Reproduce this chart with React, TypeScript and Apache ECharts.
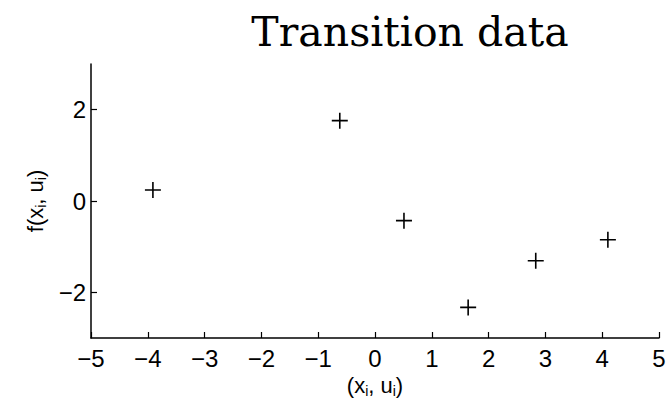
import React, { useEffect, useRef } from "react";
import * as echarts from "echarts";

const xValues = [-3.91, -0.62, 0.51, 1.64, 2.83, 4.1];
const yValues = [0.24, 1.76, -0.43, -2.33, -1.31, -0.85];
const yTickValues = [-2, 0, 2];
const titleText = "Transition data";

const plus =
  "path://M7.2,0 H8.8 V7.2 H16 V8.8 H8.8 V16 H7.2 V8.8 H0 V7.2 H7.2 Z";

const fmt = (v: number) => (v < 0 ? "\u2212" + Math.abs(v) : String(v));

export default function App() {
  const ref = useRef<HTMLDivElement>(null);
  useEffect(() => {
    if (!ref.current) return;
    const chart = echarts.init(ref.current, null, { renderer: "svg" });
    const sub = {
      n: { fontSize: 22, fontFamily: "Liberation Sans", color: "#000", lineHeight: 24, verticalAlign: "top" },
      s: {
        fontSize: 14,
        fontFamily: "Liberation Sans",
        color: "#000",
        padding: [9, 0, 0, 0],
        lineHeight: 14,
        verticalAlign: "top",
      },
    };
    chart.setOption({
      animation: false,
      title: {
        text: titleText,
        left: 405,
        textAlign: "center",
        top: 6,
        textStyle: {
          fontFamily: "DejaVu Serif",
          fontWeight: "normal",
          fontSize: 41,
          color: "#000",
        },
      },
      grid: {
        left: 91,
        right: 11,
        top: 64,
        bottom: 60,
        containLabel: false,
        outerBoundsMode: "none",
      },
      xAxis: {
        type: "value",
        min: -5,
        max: 5,
        interval: 1,
        name: "{n|(x}{s|i}{n|, u}{s|i}{n|)}",
        nameLocation: "middle",
        nameGap: 16,
        nameTextStyle: { rich: sub },
        axisLine: { onZero: false, lineStyle: { color: "#000", width: 1.5 } },
        axisTick: { inside: true, length: 6, lineStyle: { color: "#000", width: 1.2 } },
        axisLabel: {
          formatter: fmt,
          fontSize: 24,
          fontFamily: "Liberation Sans",
          color: "#000",
          margin: 8,
        },
        splitLine: { show: false },
      },
      yAxis: {
        type: "value",
        min: -3,
        max: 3,
        name: "{n|f(x}{s|i}{n|, u}{s|i}{n|)}",
        nameLocation: "middle",
        nameGap: 38,
        nameTextStyle: { rich: sub },
        axisLine: { onZero: false, lineStyle: { color: "#000", width: 1.5 } },
        axisTick: {
          inside: true,
          length: 6,
          customValues: yTickValues,
          lineStyle: { color: "#000", width: 1.2 },
        },
        axisLabel: {
          customValues: yTickValues,
          formatter: fmt,
          fontSize: 24,
          fontFamily: "Liberation Sans",
          color: "#000",
          margin: 5,
        },
        splitLine: { show: false },
      },
      series: [
        {
          type: "scatter",
          data: xValues.map((x, i) => [x, yValues[i]]),
          symbol: plus,
          symbolSize: 16,
          itemStyle: { color: "#000", opacity: 1 },
        },
      ],
    });
    return () => chart.dispose();
  }, []);
  return <div ref={ref} style={{ width: 670, height: 398, position: "absolute", left: 0, top: 0 }} />;
}
